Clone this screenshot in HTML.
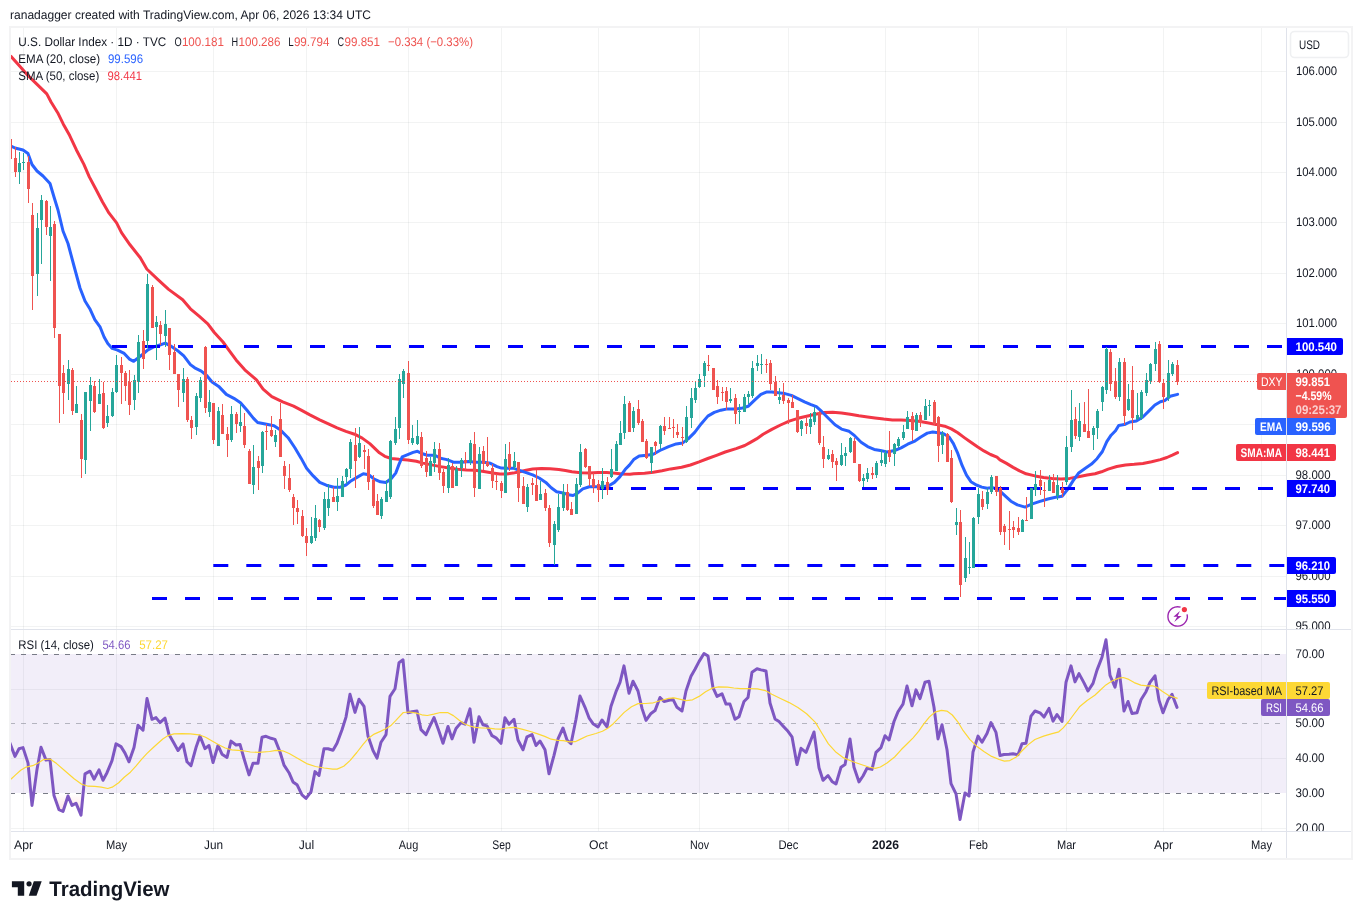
<!DOCTYPE html>
<html lang="en"><head><meta charset="utf-8"><title>U.S. Dollar Index chart</title>
<style>html,body{margin:0;padding:0;background:#fff}body{width:1362px;height:919px;overflow:hidden}svg{display:block;will-change:transform}</style>
</head><body>
<svg width="1362" height="919" viewBox="0 0 1362 919" font-family='"Liberation Sans", Arial, sans-serif' font-size="12.5" fill="#131722" shape-rendering="auto" text-rendering="geometricPrecision">
<g>
<defs>
<clipPath id="cm"><rect x="11" y="28" width="1275" height="601"/></clipPath>
<clipPath id="cr"><rect x="11" y="630" width="1275" height="201"/></clipPath>
<clipPath id="ca"><rect x="1287" y="28" width="64" height="601"/></clipPath>
<clipPath id="cb"><rect x="1287" y="630" width="64" height="201"/></clipPath>
<linearGradient id="os" gradientUnits="userSpaceOnUse" x1="0" y1="793.5" x2="0" y2="897.7"><stop offset="0" stop-color="#ff5252" stop-opacity="0"/><stop offset="1" stop-color="#ff5252" stop-opacity="1"/></linearGradient>
<linearGradient id="ob" gradientUnits="userSpaceOnUse" x1="0" y1="550.2" x2="0" y2="654.5"><stop offset="0" stop-color="#4caf50" stop-opacity="1"/><stop offset="1" stop-color="#4caf50" stop-opacity="0"/></linearGradient>
</defs>
<text x="10" y="19" font-size="12.4" textLength="361" lengthAdjust="spacingAndGlyphs">ranadagger created with TradingView.com, Apr 06, 2026 13:34 UTC</text>
<rect x="10" y="27" width="1342" height="832" fill="none" stroke="#f3f3f4" stroke-width="2"/>
<path d="M23.5 28V831 M116.5 28V831 M213.5 28V831 M306.5 28V831 M408.5 28V831 M501.5 28V831 M598.5 28V831 M699.5 28V831 M788.5 28V831 M885.5 28V831 M978.5 28V831 M1066.5 28V831 M1163.5 28V831 M1261.5 28V831" stroke="#2a2e39" stroke-opacity="0.06" stroke-width="1" fill="none" shape-rendering="crispEdges"/>
<path d="M11 626.5H1286 M11 576.5H1286 M11 525.5H1286 M11 475.5H1286 M11 424.5H1286 M11 374.5H1286 M11 323.5H1286 M11 273.5H1286 M11 222.5H1286 M11 172.5H1286 M11 122.5H1286 M11 71.5H1286 M11 689.5H1286 M11 758.5H1286 M11 828.5H1286" stroke="#2a2e39" stroke-opacity="0.06" stroke-width="1" fill="none" shape-rendering="crispEdges"/>
<rect x="11" y="654" width="1275" height="139" fill="#7e57c2" fill-opacity="0.1"/>
<g clip-path="url(#cm)">
<path d="M10.9 56.3 L19.6 66.1 L28.3 75.9 L38.1 85.4 L46.8 93.9 L51.2 102.3 L57.7 112.7 L63.2 123.9 L69.7 135.6 L76.3 149.7 L83.9 164.4 L89.3 176.9 L95.9 189.2 L102.4 201.8 L108.9 212.9 L116.6 222.8 L121.5 232.6 L130.0 244.8 L140.3 257.8 L146.8 269.0 L157.7 279.3 L168.6 289.4 L182.7 299.7 L190.4 308.8 L199.1 316.2 L207.8 323.8 L214.3 332.5 L223.0 342.0 L229.6 351.1 L236.1 359.9 L244.8 369.8 L256.5 379.9 L263.1 389.2 L271.8 396.6 L282.7 401.9 L293.6 406.1 L301.2 410.1 L309.9 414.9 L319.7 419.8 L328.4 423.9 L337.1 427.8 L345.9 431.4 L354.6 434.2 L362.2 438.1 L369.8 443.6 L375.0 448.6 L379.4 452.8 L384.8 456.3 L391.3 458.5 L399.0 459.3 L407.7 459.9 L416.4 461.3 L422.9 463.1 L431.6 464.9 L440.4 466.6 L449.1 468.1 L457.8 469.3 L466.5 469.9 L475.2 470.3 L483.9 471.4 L492.6 472.9 L500.0 473.9 L506.5 473.9 L513.1 473.1 L519.6 471.8 L526.1 470.2 L532.7 469.0 L541.4 468.5 L550.1 468.8 L558.8 469.5 L565.4 470.5 L571.9 471.8 L580.6 472.7 L589.3 472.9 L598.0 472.6 L606.8 472.6 L615.5 473.2 L622.0 474.1 L630.0 474.3 L633.7 473.8 L644.6 473.2 L653.3 472.2 L662.0 470.7 L670.8 468.9 L681.6 467.3 L690.4 465.0 L699.1 461.9 L707.8 458.5 L716.5 455.3 L725.2 452.0 L736.1 448.6 L744.8 445.5 L750.0 442.6 L756.5 438.9 L763.1 434.3 L771.8 429.4 L780.5 425.0 L789.2 421.2 L797.9 418.3 L806.6 416.2 L815.4 414.2 L824.1 412.6 L832.8 412.2 L841.5 412.9 L850.2 414.2 L858.9 415.8 L867.6 417.0 L875.0 417.9 L883.7 419.0 L892.4 419.9 L901.1 420.1 L909.9 420.4 L918.6 421.3 L927.3 422.8 L936.0 424.4 L944.7 426.2 L951.3 428.9 L957.8 432.8 L964.3 437.6 L970.9 442.3 L977.4 446.8 L983.9 450.9 L990.5 454.5 L997.0 457.2 L1000.0 459.9 L1006.5 463.4 L1013.1 467.4 L1019.6 470.9 L1026.1 473.8 L1034.9 475.9 L1043.6 477.5 L1052.3 478.6 L1061.0 479.1 L1069.7 478.4 L1078.4 476.7 L1087.1 475.1 L1095.0 473.7 L1101.5 471.8 L1108.1 469.1 L1116.8 466.5 L1125.5 465.0 L1134.2 464.3 L1142.9 463.4 L1151.6 461.8 L1160.4 459.6 L1166.9 457.5 L1172.3 455.1 L1177.6 452.6" stroke="#f23645" stroke-width="3" fill="none" stroke-linejoin="round" stroke-linecap="round"/>
<path d="M11.0 146.1 L15.0 148.0 L23.0 150.0 L28.0 153.5 L32.0 164.5 L37.0 171.0 L43.0 176.0 L50.0 183.5 L54.0 197.0 L58.0 210.0 L63.0 231.0 L68.0 243.5 L74.0 266.0 L80.0 288.0 L85.0 301.0 L89.8 308.7 L94.8 319.6 L100.2 327.2 L104.1 337.0 L107.8 343.6 L112.2 348.4 L117.6 350.1 L124.2 353.4 L129.4 359.1 L133.7 361.3 L138.1 358.0 L143.5 353.7 L147.9 349.8 L153.3 347.1 L159.9 345.0 L165.3 343.2 L170.8 346.1 L177.3 350.4 L183.8 355.9 L190.4 364.6 L194.7 367.8 L201.3 371.1 L206.7 375.5 L212.1 382.0 L218.7 386.4 L226.3 394.4 L233.9 398.3 L240.5 402.7 L247.0 410.3 L253.3 418.1 L257.6 422.5 L265.3 424.0 L274.0 425.8 L280.5 430.1 L288.1 437.7 L294.7 447.5 L301.2 458.4 L306.6 468.2 L313.2 475.9 L319.7 482.4 L326.3 485.2 L333.9 487.2 L340.4 487.2 L345.9 485.0 L351.3 480.7 L357.8 476.9 L363.3 473.7 L368.7 474.8 L374.2 479.1 L380.4 481.8 L385.9 482.5 L391.3 478.5 L395.7 473.1 L399.0 464.4 L402.2 456.8 L407.7 454.6 L413.1 452.4 L417.5 451.3 L421.8 453.5 L427.3 455.2 L434.9 455.2 L440.4 458.3 L446.9 459.6 L453.4 462.2 L462.1 462.2 L468.7 461.5 L476.3 462.2 L483.9 462.2 L490.5 463.3 L497.0 466.6 L501.4 468.1 L506.5 468.2 L513.1 468.2 L519.6 470.4 L526.1 472.6 L532.7 474.8 L539.2 478.0 L545.8 482.4 L551.2 487.8 L556.6 491.8 L563.2 492.9 L568.6 494.8 L573.0 495.5 L577.3 493.3 L582.8 488.9 L589.3 486.8 L595.9 486.8 L602.4 486.8 L608.9 485.7 L614.4 482.4 L619.8 476.9 L625.3 469.3 L629.4 465.1 L633.7 459.6 L639.2 455.9 L646.8 455.3 L653.3 454.2 L659.9 450.5 L668.6 446.6 L676.2 443.9 L682.7 442.9 L688.2 438.9 L694.7 432.4 L701.3 423.7 L707.8 416.1 L714.3 412.4 L720.9 410.2 L727.4 408.9 L736.1 408.9 L742.6 408.0 L748.1 406.3 L755.4 399.3 L760.9 394.3 L766.3 392.1 L771.8 392.1 L778.3 392.7 L784.9 393.6 L791.4 395.4 L797.9 398.6 L804.5 401.9 L811.0 404.7 L816.4 406.7 L821.9 411.7 L828.4 418.2 L835.0 424.8 L841.5 429.1 L849.1 431.3 L854.6 435.7 L861.1 442.2 L867.6 446.6 L874.2 449.4 L880.4 450.5 L887.0 451.9 L894.6 450.5 L901.1 447.9 L907.7 444.2 L914.2 441.4 L920.8 437.0 L927.3 433.1 L932.7 432.0 L938.2 432.7 L943.6 433.8 L949.1 437.0 L953.4 443.6 L957.8 453.4 L962.1 465.4 L966.5 475.2 L970.9 481.7 L976.3 485.0 L981.8 487.1 L987.2 488.2 L992.6 487.6 L998.1 489.3 L1005.4 496.2 L1010.9 501.2 L1017.4 504.9 L1025.1 507.1 L1031.6 504.2 L1039.2 501.6 L1047.9 499.0 L1055.6 497.3 L1062.1 496.2 L1067.5 489.6 L1073.0 480.9 L1078.4 473.3 L1085.0 468.5 L1091.5 464.1 L1097.0 458.7 L1102.4 451.5 L1106.8 441.7 L1111.1 435.2 L1115.5 430.8 L1118.7 425.4 L1124.4 424.6 L1129.9 422.0 L1136.4 420.9 L1142.9 417.0 L1149.5 410.4 L1154.9 405.0 L1160.4 401.7 L1164.7 400.6 L1170.2 396.3 L1177.6 394.4" stroke="#2962ff" stroke-width="3" fill="none" stroke-linejoin="round" stroke-linecap="round"/>
<path d="M112 346.5H1286" stroke="#0000ff" stroke-width="3" stroke-dasharray="15 18" fill="none"/>
<path d="M598 488.5H1286" stroke="#0000ff" stroke-width="3" stroke-dasharray="15 18" fill="none"/>
<path d="M213.3 565.5H1286" stroke="#0000ff" stroke-width="3" stroke-dasharray="15 18" fill="none"/>
<path d="M152 598.5H1286" stroke="#0000ff" stroke-width="3" stroke-dasharray="15 18" fill="none"/>
<path d="M19.5 152V184 M23.5 153V170 M37.5 213V296 M41.5 195V264 M50.5 206V281 M68.5 360V400 M76.5 386V413 M85.5 392V474 M90.5 377V431 M99.5 379V404 M107.5 405V427 M112.5 388V417 M116.5 355V393 M134.5 375V410 M138.5 335V393 M147.5 274V348 M156.5 316V360 M165.5 310V347 M183.5 368V402 M196.5 393V435 M200.5 377V402 M209.5 390V417 M218.5 407V446 M231.5 406V442 M240.5 404V432 M253.5 445V494 M262.5 431V473 M275.5 430V447 M311.5 517V544 M315.5 505V541 M324.5 492V530 M328.5 484V516 M337.5 478V511 M342.5 476V497 M346.5 468V484 M350.5 439V478 M359.5 427V458 M381.5 497V519 M386.5 480V502 M390.5 440V499 M395.5 417V445 M399.5 374V439 M403.5 369V398 M412.5 425V445 M417.5 420V445 M430.5 457V476 M434.5 442V472 M448.5 458V493 M456.5 466V486 M461.5 458V477 M470.5 440V465 M479.5 447V489 M505.5 444V493 M514.5 452V470 M527.5 484V512 M540.5 481V500 M554.5 521V565 M558.5 494V532 M563.5 484V511 M576.5 478V514 M580.5 444V487 M602.5 468V499 M611.5 449V478 M616.5 441V471 M620.5 421V445 M624.5 396V439 M633.5 407V432 M651.5 447V473 M660.5 425V449 M686.5 406V443 M691.5 388V428 M695.5 381V403 M699.5 374V388 M704.5 361V387 M730.5 388V403 M739.5 404V424 M744.5 394V412 M748.5 391V404 M752.5 361V398 M757.5 355V371 M761.5 354V374 M779.5 388V404 M801.5 420V436 M810.5 413V434 M814.5 407V425 M828.5 449V460 M841.5 443V466 M845.5 447V466 M850.5 437V453 M863.5 474V487 M867.5 468V482 M876.5 461V478 M881.5 450V466 M885.5 450V467 M894.5 443V466 M898.5 437V448 M903.5 425V440 M907.5 411V429 M916.5 413V431 M925.5 399V420 M929.5 400V416 M942.5 431V454 M956.5 508V535 M965.5 537V582 M969.5 542V574 M973.5 517V568 M978.5 488V524 M987.5 488V509 M991.5 475V494 M1022.5 519V532 M1031.5 488V519 M1035.5 471V496 M1049.5 475V491 M1057.5 475V500 M1066.5 436V485 M1071.5 390V452 M1079.5 403V441 M1093.5 426V450 M1097.5 409V439 M1102.5 386V411 M1106.5 347V394 M1119.5 358V401 M1128.5 384V411 M1137.5 393V420 M1141.5 390V420 M1146.5 373V396 M1150.5 363V384 M1155.5 342V371 M1168.5 360V401 M1172.5 362V376" stroke="#26a69a" stroke-width="1" fill="none" shape-rendering="crispEdges"/>
<path d="M10.5 139V168 M15.5 147V177 M28.5 156V203 M32.5 203V310 M46.5 200V235 M54.5 221V338 M59.5 334V423 M63.5 365V414 M72.5 368V415 M81.5 414V478 M94.5 381V413 M103.5 382V429 M121.5 357V404 M125.5 371V401 M129.5 370V415 M143.5 330V369 M152.5 285V328 M160.5 321V345 M169.5 328V370 M174.5 344V374 M178.5 374V407 M187.5 377V422 M191.5 416V439 M205.5 346V413 M213.5 403V444 M222.5 404V434 M227.5 427V457 M236.5 412V433 M244.5 413V448 M249.5 449V484 M258.5 456V490 M266.5 424V450 M271.5 416V437 M280.5 403V457 M284.5 461V489 M289.5 464V492 M293.5 494V525 M297.5 500V524 M302.5 510V537 M306.5 528V556 M319.5 519V532 M333.5 487V502 M355.5 428V488 M364.5 445V469 M368.5 449V490 M373.5 475V508 M377.5 494V515 M408.5 361V444 M421.5 432V468 M426.5 451V477 M439.5 443V480 M443.5 469V493 M452.5 463V488 M465.5 452V470 M474.5 432V497 M483.5 446V470 M487.5 437V467 M492.5 464V488 M496.5 474V490 M501.5 481V498 M509.5 442V471 M518.5 462V502 M523.5 477V504 M532.5 478V495 M536.5 470V501 M545.5 489V511 M549.5 505V547 M567.5 484V511 M571.5 502V515 M585.5 448V468 M589.5 466V486 M593.5 473V493 M598.5 480V502 M607.5 477V495 M629.5 401V432 M638.5 400V425 M642.5 419V442 M646.5 439V459 M655.5 441V455 M664.5 417V435 M669.5 417V429 M673.5 419V438 M677.5 424V438 M682.5 427V446 M708.5 355V371 M713.5 368V390 M717.5 380V404 M722.5 387V401 M726.5 387V410 M735.5 394V424 M766.5 359V373 M770.5 360V390 M775.5 376V396 M783.5 383V404 M788.5 398V424 M792.5 395V408 M797.5 410V433 M806.5 418V434 M819.5 411V445 M823.5 436V468 M832.5 450V468 M836.5 458V481 M854.5 438V463 M859.5 464V482 M872.5 467V479 M889.5 431V462 M912.5 412V441 M920.5 412V427 M934.5 400V425 M938.5 416V462 M947.5 433V462 M951.5 450V503 M960.5 510V597 M982.5 491V510 M996.5 476V496 M1000.5 486V535 M1004.5 524V545 M1009.5 511V550 M1013.5 521V538 M1018.5 517V535 M1026.5 497V521 M1040.5 470V495 M1044.5 482V507 M1053.5 474V493 M1062.5 482V497 M1075.5 407V439 M1084.5 402V432 M1088.5 389V438 M1110.5 349V391 M1115.5 368V399 M1124.5 358V425 M1132.5 366V430 M1159.5 341V383 M1163.5 379V409 M1177.5 360V385" stroke="#ef5350" stroke-width="1" fill="none" shape-rendering="crispEdges"/>
<path d="M18 163h3v9h-3z M22 162h3v1h-3z M36 228h3v46h-3z M40 200h3v20h-3z M49 227h3v9h-3z M67 369h3v15h-3z M75 404h3v9h-3z M84 392h3v68h-3z M89 385h3v16h-3z M98 394h3v10h-3z M106 416h3v7h-3z M111 392h3v24h-3z M115 365h3v27h-3z M133 380h3v20h-3z M137 342h3v40h-3z M146 284h3v57h-3z M155 322h3v5h-3z M164 324h3v12h-3z M182 379h3v14h-3z M195 396h3v31h-3z M199 380h3v18h-3z M208 402h3v10h-3z M217 411h3v35h-3z M230 414h3v26h-3z M239 422h3v4h-3z M252 467h3v18h-3z M261 432h3v34h-3z M274 435h3v7h-3z M310 536h3v7h-3z M314 518h3v20h-3z M323 499h3v29h-3z M327 499h3v9h-3z M336 496h3v6h-3z M341 481h3v16h-3z M345 469h3v8h-3z M349 442h3v27h-3z M358 443h3v14h-3z M380 499h3v17h-3z M385 491h3v11h-3z M389 441h3v56h-3z M394 429h3v14h-3z M398 379h3v49h-3z M402 371h3v13h-3z M411 438h3v5h-3z M416 436h3v8h-3z M429 461h3v15h-3z M433 449h3v14h-3z M447 465h3v23h-3z M455 469h3v17h-3z M460 460h3v8h-3z M469 443h3v19h-3z M478 454h3v35h-3z M504 459h3v34h-3z M513 461h3v6h-3z M526 487h3v20h-3z M539 494h3v6h-3z M553 524h3v21h-3z M557 507h3v23h-3z M562 492h3v16h-3z M575 484h3v30h-3z M579 452h3v33h-3z M601 481h3v8h-3z M610 469h3v8h-3z M615 444h3v27h-3z M619 433h3v12h-3z M623 404h3v29h-3z M632 411h3v17h-3z M650 447h3v16h-3z M659 426h3v18h-3z M685 417h3v25h-3z M690 398h3v20h-3z M694 388h3v12h-3z M698 379h3v8h-3z M703 363h3v13h-3z M729 399h3v2h-3z M738 411h3v1h-3z M743 397h3v15h-3z M747 394h3v3h-3z M751 368h3v28h-3z M756 363h3v3h-3z M760 364h3v1h-3z M778 397h3v3h-3z M800 421h3v8h-3z M809 419h3v8h-3z M813 412h3v10h-3z M827 455h3v4h-3z M840 455h3v10h-3z M844 453h3v3h-3z M849 438h3v14h-3z M862 478h3v3h-3z M866 473h3v6h-3z M875 463h3v12h-3z M880 460h3v3h-3z M884 453h3v11h-3z M893 444h3v10h-3z M897 439h3v7h-3z M902 432h3v6h-3z M906 417h3v12h-3z M915 415h3v16h-3z M924 406h3v14h-3z M928 405h3v1h-3z M941 434h3v11h-3z M955 522h3v3h-3z M964 558h3v20h-3z M968 567h3v1h-3z M972 518h3v50h-3z M977 494h3v23h-3z M986 492h3v12h-3z M990 477h3v15h-3z M1021 520h3v12h-3z M1030 488h3v31h-3z M1034 484h3v6h-3z M1048 480h3v11h-3z M1056 485h3v11h-3z M1065 447h3v35h-3z M1070 420h3v27h-3z M1078 421h3v16h-3z M1092 428h3v7h-3z M1096 411h3v17h-3z M1101 387h3v15h-3z M1105 349h3v41h-3z M1118 362h3v35h-3z M1127 399h3v11h-3z M1136 415h3v4h-3z M1140 392h3v26h-3z M1145 380h3v13h-3z M1149 364h3v17h-3z M1154 349h3v15h-3z M1167 373h3v25h-3z M1171 364h3v10h-3z" fill="#26a69a" shape-rendering="crispEdges"/>
<path d="M9 139h3v20h-3z M14 158h3v14h-3z M27 162h3v27h-3z M31 215h3v61h-3z M45 201h3v26h-3z M53 224h3v104h-3z M58 334h3v52h-3z M62 373h3v20h-3z M71 370h3v41h-3z M80 420h3v39h-3z M93 386h3v26h-3z M102 393h3v35h-3z M120 365h3v8h-3z M124 373h3v13h-3z M128 382h3v23h-3z M142 341h3v18h-3z M151 287h3v41h-3z M159 325h3v9h-3z M168 328h3v27h-3z M173 352h3v22h-3z M177 374h3v16h-3z M186 379h3v41h-3z M190 420h3v8h-3z M204 347h3v61h-3z M212 403h3v37h-3z M221 415h3v19h-3z M226 434h3v6h-3z M235 414h3v10h-3z M243 426h3v19h-3z M248 451h3v33h-3z M257 461h3v7h-3z M265 431h3v1h-3z M270 430h3v6h-3z M279 419h3v38h-3z M283 466h3v10h-3z M288 478h3v12h-3z M292 497h3v11h-3z M296 508h3v4h-3z M301 516h3v20h-3z M305 536h3v7h-3z M318 520h3v7h-3z M332 497h3v5h-3z M354 445h3v16h-3z M363 450h3v2h-3z M367 456h3v26h-3z M372 480h3v26h-3z M376 501h3v14h-3z M407 373h3v67h-3z M420 437h3v29h-3z M425 458h3v14h-3z M438 449h3v24h-3z M442 472h3v14h-3z M451 466h3v22h-3z M464 460h3v3h-3z M473 444h3v44h-3z M482 451h3v13h-3z M486 462h3v4h-3z M491 468h3v13h-3z M495 481h3v1h-3z M500 483h3v8h-3z M508 454h3v14h-3z M517 462h3v26h-3z M522 486h3v18h-3z M531 483h3v2h-3z M535 485h3v16h-3z M544 493h3v15h-3z M548 508h3v35h-3z M566 492h3v18h-3z M570 509h3v6h-3z M584 449h3v18h-3z M588 466h3v13h-3z M592 479h3v8h-3z M597 484h3v6h-3z M606 482h3v8h-3z M628 403h3v29h-3z M637 409h3v14h-3z M641 421h3v21h-3z M645 441h3v17h-3z M654 442h3v4h-3z M663 426h3v5h-3z M668 428h3v1h-3z M672 427h3v1h-3z M676 432h3v3h-3z M681 437h3v1h-3z M707 365h3v1h-3z M712 368h3v22h-3z M716 386h3v11h-3z M721 392h3v1h-3z M725 391h3v11h-3z M734 398h3v16h-3z M765 364h3v1h-3z M769 363h3v21h-3z M774 382h3v14h-3z M782 395h3v6h-3z M787 400h3v3h-3z M791 402h3v6h-3z M796 410h3v22h-3z M805 423h3v3h-3z M818 412h3v31h-3z M822 447h3v12h-3z M831 454h3v8h-3z M835 461h3v4h-3z M853 441h3v22h-3z M858 464h3v17h-3z M871 473h3v2h-3z M888 450h3v7h-3z M911 416h3v14h-3z M919 415h3v8h-3z M933 402h3v22h-3z M937 417h3v29h-3z M946 434h3v28h-3z M950 458h3v44h-3z M959 522h3v63h-3z M981 499h3v8h-3z M995 476h3v16h-3z M999 488h3v44h-3z M1003 526h3v6h-3z M1008 529h3v1h-3z M1012 527h3v3h-3z M1017 528h3v4h-3z M1025 520h3v1h-3z M1039 480h3v6h-3z M1043 490h3v1h-3z M1052 482h3v11h-3z M1061 488h3v5h-3z M1074 419h3v17h-3z M1083 424h3v8h-3z M1087 431h3v7h-3z M1109 352h3v32h-3z M1114 381h3v16h-3z M1123 362h3v54h-3z M1131 390h3v28h-3z M1158 344h3v38h-3z M1162 383h3v14h-3z M1176 365h3v17h-3z" fill="#ef5350" shape-rendering="crispEdges"/>
<path d="M11 381.5H1257" stroke="#ef5350" stroke-width="1" stroke-dasharray="1 2" fill="none" shape-rendering="crispEdges"/>
<g stroke="#9c27b0" fill="none" stroke-width="1.4"><path d="M1187.1 614.4A9.7 9.7 0 1 1 1180.6 607.2"/></g>
<path d="M1179.9 611.1L1173.4 616.7H1177.2L1174.2 622L1181.6 616.1H1177.7z" fill="#9c27b0"/>
<circle cx="1184.4" cy="609.6" r="2.6" fill="#f23645"/>
</g>
<text x="18.3" y="46" textLength="148" lengthAdjust="spacingAndGlyphs">U.S. Dollar Index · 1D · TVC</text>
<text x="174.4" y="46" textLength="7.2" lengthAdjust="spacingAndGlyphs">O</text>
<text x="181.9" y="46" fill="#ef5350" textLength="42" lengthAdjust="spacingAndGlyphs">100.181</text>
<text x="231.6" y="46" textLength="6.6" lengthAdjust="spacingAndGlyphs">H</text>
<text x="238.5" y="46" fill="#ef5350" textLength="42" lengthAdjust="spacingAndGlyphs">100.286</text>
<text x="288.2" y="46" textLength="5.4" lengthAdjust="spacingAndGlyphs">L</text>
<text x="293.9" y="46" fill="#ef5350" textLength="35.5" lengthAdjust="spacingAndGlyphs">99.794</text>
<text x="337.6" y="46" textLength="6.6" lengthAdjust="spacingAndGlyphs">C</text>
<text x="344.50000000000006" y="46" fill="#ef5350" textLength="35.5" lengthAdjust="spacingAndGlyphs">99.851</text>
<text x="388" y="46" fill="#ef5350" textLength="85" lengthAdjust="spacingAndGlyphs">−0.334 (−0.33%)</text>
<text x="18.3" y="63" textLength="81.7" lengthAdjust="spacingAndGlyphs">EMA (20, close)</text>
<text x="108" y="63" fill="#2962ff" textLength="35" lengthAdjust="spacingAndGlyphs">99.596</text>
<text x="18.3" y="80" textLength="81" lengthAdjust="spacingAndGlyphs">SMA (50, close)</text>
<text x="107.5" y="80" fill="#f23645" textLength="34.5" lengthAdjust="spacingAndGlyphs">98.441</text>
<rect x="11" y="629" width="1340" height="1" fill="#e0e3eb"/>
<g clip-path="url(#cr)">
<path d="M30.9 793.5 L32.0 805.4 L33.7 793.5Z" fill="url(#os)" />
<path d="M53.8 793.5 L54.0 795.6 L59.0 809.7 L63.0 811.5 L68.0 796.0 L72.0 805.4 L76.0 803.2 L81.0 815.2 L83.1 793.5Z" fill="url(#os)" />
<path d="M301.3 793.5 L302.0 794.9 L306.0 798.4 L309.8 793.5Z" fill="url(#os)" />
<path d="M955.9 793.5 L956.0 793.8 L960.0 819.5 L964.9 793.5Z" fill="url(#os)" />
<path d="M965.7 793.5 L969.0 796.0 L969.2 793.5Z" fill="url(#os)" />
<path d="M703.4 654.5 L704.0 653.5 L705.5 654.5Z" fill="url(#ob)" />
<path d="M1102.6 654.5 L1106.0 639.8 L1107.7 654.5Z" fill="url(#ob)" />
<path d="M10 654.5H1286" stroke="#787b86" stroke-opacity="1" stroke-width="1" stroke-dasharray="5 6" fill="none" shape-rendering="crispEdges"/>
<path d="M10 723.5H1286" stroke="#787b86" stroke-opacity="0.5" stroke-width="1" stroke-dasharray="5 6" fill="none" shape-rendering="crispEdges"/>
<path d="M10 793.5H1286" stroke="#787b86" stroke-opacity="1" stroke-width="1" stroke-dasharray="5 6" fill="none" shape-rendering="crispEdges"/>
<path d="M10.0 743.3 L15.0 756.4 L19.0 748.7 L23.0 747.6 L28.0 762.9 L32.0 805.4 L37.0 769.4 L41.0 747.2 L46.0 760.1 L50.0 759.6 L54.0 795.6 L59.0 809.7 L63.0 811.5 L68.0 796.0 L72.0 805.4 L76.0 803.2 L81.0 815.2 L85.0 773.8 L90.0 771.2 L94.0 779.2 L99.0 769.9 L103.0 780.3 L107.0 772.7 L112.0 760.7 L116.0 743.9 L121.0 746.6 L125.0 753.1 L129.0 761.8 L134.0 747.6 L138.0 725.2 L143.0 730.2 L147.0 698.6 L152.0 719.3 L156.0 717.6 L160.0 722.6 L165.0 718.2 L169.0 734.6 L174.0 743.3 L178.0 750.5 L183.0 743.9 L187.0 761.8 L191.0 765.7 L196.0 747.6 L200.0 736.1 L205.0 748.7 L209.0 745.5 L213.0 762.5 L218.0 745.5 L222.0 754.2 L227.0 757.5 L231.0 741.1 L236.0 745.0 L240.0 744.4 L244.0 758.5 L249.0 774.9 L253.0 763.3 L258.0 763.3 L262.0 737.2 L266.0 736.3 L271.0 738.3 L275.0 739.4 L280.0 752.0 L284.0 765.1 L289.0 772.7 L293.0 781.9 L297.0 784.7 L302.0 794.9 L306.0 798.4 L311.0 791.9 L315.0 771.6 L319.0 775.5 L324.0 748.7 L328.0 748.7 L333.0 750.3 L337.0 743.3 L342.0 729.8 L346.0 717.1 L350.0 694.3 L355.0 712.4 L359.0 699.3 L364.0 706.3 L368.0 736.1 L373.0 750.5 L377.0 758.1 L381.0 742.2 L386.0 734.6 L390.0 696.4 L395.0 688.8 L399.0 662.7 L403.0 659.8 L408.0 712.8 L412.0 711.7 L417.0 711.0 L421.0 729.6 L426.0 734.6 L430.0 725.9 L434.0 717.6 L439.0 731.3 L443.0 743.3 L448.0 726.5 L452.0 738.9 L456.0 728.5 L461.0 722.6 L465.0 724.1 L470.0 708.9 L474.0 742.2 L479.0 716.7 L483.0 724.8 L487.0 725.9 L492.0 735.7 L496.0 737.8 L501.0 743.3 L505.0 717.8 L509.0 724.3 L514.0 719.3 L518.0 740.0 L523.0 749.8 L527.0 736.8 L532.0 734.6 L536.0 745.5 L540.0 741.1 L545.0 749.8 L549.0 773.8 L554.0 755.3 L558.0 738.9 L563.0 728.0 L567.0 740.0 L571.0 743.7 L576.0 719.3 L580.0 696.0 L585.0 707.3 L589.0 717.8 L593.0 723.7 L598.0 726.9 L602.0 720.0 L607.0 726.9 L611.0 706.3 L616.0 691.7 L620.0 682.3 L624.0 665.9 L629.0 693.2 L633.0 681.2 L638.0 691.0 L642.0 708.4 L646.0 720.4 L651.0 713.4 L655.0 710.6 L660.0 697.5 L664.0 701.5 L669.0 700.2 L673.0 699.3 L677.0 707.3 L682.0 711.0 L686.0 691.0 L691.0 676.2 L695.0 669.2 L699.0 661.6 L704.0 653.5 L708.0 656.1 L713.0 687.7 L717.0 696.4 L722.0 693.8 L726.0 704.1 L730.0 704.1 L735.0 719.3 L739.0 716.7 L744.0 701.5 L748.0 697.5 L752.0 672.2 L757.0 668.8 L761.0 669.9 L766.0 671.0 L770.0 703.0 L775.0 718.9 L779.0 721.5 L783.0 725.9 L788.0 731.3 L792.0 736.8 L797.0 764.6 L801.0 748.3 L806.0 752.4 L810.0 742.2 L814.0 732.0 L819.0 767.7 L823.0 780.3 L828.0 775.5 L832.0 781.4 L836.0 784.0 L841.0 767.3 L845.0 764.6 L850.0 738.9 L854.0 767.3 L859.0 781.9 L863.0 776.0 L867.0 768.3 L872.0 769.4 L876.0 752.4 L881.0 747.6 L885.0 735.7 L889.0 740.0 L894.0 721.5 L898.0 711.7 L903.0 704.1 L907.0 686.0 L912.0 705.8 L916.0 689.9 L920.0 698.6 L925.0 682.3 L929.0 681.2 L934.0 707.3 L938.0 738.9 L942.0 724.8 L947.0 749.8 L951.0 783.6 L956.0 793.8 L960.0 819.5 L965.0 793.0 L969.0 796.0 L973.0 752.0 L978.0 736.1 L982.0 742.2 L987.0 733.5 L991.0 722.6 L996.0 732.4 L1000.0 755.5 L1004.0 754.5 L1009.0 754.2 L1013.0 753.7 L1018.0 754.8 L1022.0 743.7 L1026.0 743.3 L1031.0 716.1 L1035.0 711.0 L1040.0 712.8 L1044.0 717.1 L1049.0 708.4 L1053.0 721.1 L1057.0 714.5 L1062.0 721.5 L1066.0 682.3 L1071.0 665.9 L1075.0 681.9 L1079.0 673.6 L1084.0 682.9 L1088.0 691.0 L1093.0 683.4 L1097.0 670.1 L1102.0 657.2 L1106.0 639.8 L1110.0 675.3 L1115.0 687.1 L1119.0 669.2 L1124.0 711.0 L1128.0 701.5 L1132.0 713.4 L1137.0 712.8 L1141.0 699.7 L1146.0 691.7 L1150.0 682.3 L1155.0 675.8 L1159.0 700.2 L1163.0 712.8 L1168.0 699.7 L1172.0 694.3 L1177.0 707.4" stroke="#7e57c2" stroke-width="3" fill="none" stroke-linejoin="round" stroke-linecap="round"/>
<path d="M10.9 779.2 L15.3 775.1 L20.7 770.2 L26.1 767.1 L32.7 765.7 L38.1 763.0 L43.6 759.6 L50.1 759.0 L56.6 763.6 L65.4 771.3 L74.1 778.8 L81.7 784.2 L88.2 786.2 L94.8 786.3 L101.3 787.2 L107.8 788.5 L112.2 787.2 L118.7 782.7 L124.2 777.3 L130.4 772.2 L135.9 766.2 L141.3 759.6 L146.8 753.6 L152.2 748.5 L157.7 743.5 L163.1 738.7 L168.6 735.3 L174.0 733.8 L181.6 733.6 L190.4 733.9 L199.1 734.8 L205.6 737.3 L212.1 741.1 L218.7 744.8 L225.2 748.0 L231.8 749.9 L238.3 750.4 L244.8 751.0 L250.3 752.0 L258.7 752.4 L269.6 751.5 L276.1 750.4 L282.7 750.8 L289.2 753.5 L297.9 758.5 L306.6 763.6 L315.4 766.5 L324.1 768.0 L332.8 769.1 L337.1 769.1 L343.7 766.3 L350.2 760.4 L356.8 752.5 L363.3 744.2 L368.7 737.9 L374.2 734.1 L380.4 731.4 L385.9 728.8 L391.3 725.2 L395.7 720.7 L400.1 715.8 L403.3 712.5 L409.9 712.0 L416.4 713.1 L421.8 714.8 L427.3 715.5 L433.8 714.1 L440.4 712.5 L448.0 712.7 L453.4 715.6 L458.9 720.0 L464.3 723.8 L469.8 726.0 L475.2 727.4 L481.8 728.0 L488.3 728.1 L494.8 728.8 L500.3 729.2 L506.5 728.0 L514.2 727.4 L521.8 729.1 L530.5 731.5 L537.0 733.6 L544.7 736.4 L551.2 739.2 L557.7 740.4 L563.2 740.7 L569.7 741.8 L575.2 741.7 L580.6 739.1 L587.1 736.0 L595.9 733.5 L602.4 731.3 L607.8 728.3 L613.3 723.7 L618.7 718.2 L624.2 712.4 L631.5 706.7 L638.1 703.6 L645.7 703.5 L653.3 702.8 L660.9 700.5 L668.6 698.4 L674.0 697.9 L680.6 699.3 L686.0 700.6 L692.5 699.8 L699.1 696.4 L705.6 691.7 L712.1 688.2 L718.7 686.9 L727.4 687.1 L733.9 688.0 L740.5 688.6 L747.0 688.5 L757.6 688.8 L765.3 690.6 L771.8 694.3 L780.5 698.5 L789.2 702.6 L797.9 707.5 L806.6 713.8 L815.4 722.4 L821.9 733.2 L828.4 743.9 L836.1 752.3 L843.7 757.9 L852.4 761.5 L861.1 764.5 L868.7 767.0 L875.3 768.3 L880.4 767.0 L887.0 763.0 L894.6 757.0 L901.1 749.8 L907.7 743.3 L913.1 737.8 L918.6 731.3 L924.0 723.7 L929.5 716.9 L934.9 712.2 L941.4 710.3 L946.9 711.1 L952.3 715.0 L957.8 721.8 L963.2 730.7 L969.8 739.3 L976.3 745.9 L983.9 751.6 L991.6 756.4 L999.2 759.5 L1004.4 761.1 L1009.8 760.6 L1016.3 757.0 L1021.8 751.0 L1028.3 744.6 L1034.9 739.5 L1043.6 736.1 L1051.2 733.9 L1058.8 731.8 L1063.2 727.9 L1068.6 721.5 L1074.1 714.0 L1079.5 706.8 L1087.1 700.5 L1094.8 695.3 L1100.4 690.0 L1105.9 684.9 L1112.4 680.8 L1119.0 678.1 L1123.3 677.5 L1128.8 679.4 L1134.2 682.6 L1140.8 685.1 L1147.3 685.8 L1152.7 685.8 L1157.1 687.6 L1162.5 691.6 L1168.0 695.1 L1173.4 697.2 L1177.6 698.4" stroke="#fdd835" stroke-width="1.2" fill="none" stroke-linejoin="round"/>
</g>
<text x="18.3" y="648.7" textLength="75.5" lengthAdjust="spacingAndGlyphs">RSI (14, close)</text>
<text x="102.4" y="648.7" fill="#7e57c2" textLength="28" lengthAdjust="spacingAndGlyphs">54.66</text>
<text x="139.2" y="648.7" fill="#fdd835" textLength="28.8" lengthAdjust="spacingAndGlyphs">57.27</text>
<rect x="1286" y="28" width="1" height="830" fill="#e0e3eb"/>
<rect x="11" y="831" width="1340" height="1" fill="#e0e3eb"/>
<g clip-path="url(#ca)">
<text x="1295.5" y="630.3" textLength="35" lengthAdjust="spacingAndGlyphs">95.000</text>
<text x="1295.5" y="580.3" textLength="35" lengthAdjust="spacingAndGlyphs">96.000</text>
<text x="1295.5" y="529.3" textLength="35" lengthAdjust="spacingAndGlyphs">97.000</text>
<text x="1295.5" y="479.3" textLength="35" lengthAdjust="spacingAndGlyphs">98.000</text>
<text x="1295.5" y="428.3" textLength="35" lengthAdjust="spacingAndGlyphs">99.000</text>
<text x="1296" y="378.3" textLength="41" lengthAdjust="spacingAndGlyphs">100.000</text>
<text x="1296" y="327.3" textLength="41" lengthAdjust="spacingAndGlyphs">101.000</text>
<text x="1296" y="277.3" textLength="41" lengthAdjust="spacingAndGlyphs">102.000</text>
<text x="1296" y="226.3" textLength="41" lengthAdjust="spacingAndGlyphs">103.000</text>
<text x="1296" y="176.3" textLength="41" lengthAdjust="spacingAndGlyphs">104.000</text>
<text x="1296" y="126.3" textLength="41" lengthAdjust="spacingAndGlyphs">105.000</text>
<text x="1296" y="75.3" textLength="41" lengthAdjust="spacingAndGlyphs">106.000</text>
</g><g clip-path="url(#cb)">
<text x="1295.5" y="658.3" textLength="29" lengthAdjust="spacingAndGlyphs">70.00</text>
<text x="1295.5" y="727.3" textLength="29" lengthAdjust="spacingAndGlyphs">50.00</text>
<text x="1295.5" y="762.3" textLength="29" lengthAdjust="spacingAndGlyphs">40.00</text>
<text x="1295.5" y="797.3" textLength="29" lengthAdjust="spacingAndGlyphs">30.00</text>
<text x="1295.5" y="832.3" textLength="29" lengthAdjust="spacingAndGlyphs">20.00</text>
</g>
<rect x="1290.5" y="31.5" width="58" height="26" rx="4" fill="#fff" stroke="#eff0f2" stroke-width="1.6"/>
<text x="1299" y="48.7" textLength="21" lengthAdjust="spacingAndGlyphs">USD</text>
<path d="M1287 338H1341Q1343 338 1343 340V353Q1343 355 1341 355H1287Q1287 355 1287 355V338Q1287 338 1287 338Z" fill="#0000ff"/>
<text x="1295.5" y="350.5" fill="#fff" font-weight="bold" textLength="41.5" lengthAdjust="spacingAndGlyphs">100.540</text>
<path d="M1287 480H1334Q1336 480 1336 482V495Q1336 497 1334 497H1287Q1287 497 1287 497V480Q1287 480 1287 480Z" fill="#0000ff"/>
<text x="1295.5" y="492.5" fill="#fff" font-weight="bold" textLength="34.5" lengthAdjust="spacingAndGlyphs">97.740</text>
<path d="M1287 557H1334Q1336 557 1336 559V572Q1336 574 1334 574H1287Q1287 574 1287 574V557Q1287 557 1287 557Z" fill="#0000ff"/>
<text x="1295.5" y="569.5" fill="#fff" font-weight="bold" textLength="34.5" lengthAdjust="spacingAndGlyphs">96.210</text>
<path d="M1287 590H1334Q1336 590 1336 592V605Q1336 607 1334 607H1287Q1287 607 1287 607V590Q1287 590 1287 590Z" fill="#0000ff"/>
<text x="1295.5" y="602.5" fill="#fff" font-weight="bold" textLength="34.5" lengthAdjust="spacingAndGlyphs">95.550</text>
<path d="M1259 373H1286Q1286 373 1286 373V390Q1286 390 1286 390H1259Q1257 390 1257 388V375Q1257 373 1259 373Z" fill="#ef5350"/>
<text x="1261" y="385.5" fill="#fff" textLength="21.5" lengthAdjust="spacingAndGlyphs">DXY</text>
<path d="M1287 373H1345Q1347 373 1347 375V416Q1347 418 1345 418H1287Q1287 418 1287 418V373Q1287 373 1287 373Z" fill="#ef5350"/>
<text x="1295.5" y="385.8" fill="#fff" font-weight="bold" textLength="34.5" lengthAdjust="spacingAndGlyphs">99.851</text>
<text x="1295.5" y="399.8" fill="#fff" font-weight="bold" textLength="36" lengthAdjust="spacingAndGlyphs">−4.59%</text>
<text x="1295.5" y="414" fill="#fff" fill-opacity="0.72" font-weight="bold" textLength="46" lengthAdjust="spacingAndGlyphs">09:25:37</text>
<path d="M1257 418H1286Q1286 418 1286 418V435Q1286 435 1286 435H1257Q1255 435 1255 433V420Q1255 418 1257 418Z" fill="#2962ff"/>
<text x="1260" y="430.5" fill="#fff" font-weight="bold" textLength="22.5" lengthAdjust="spacingAndGlyphs">EMA</text>
<path d="M1287 418H1334Q1336 418 1336 420V433Q1336 435 1334 435H1287Q1287 435 1287 435V418Q1287 418 1287 418Z" fill="#2962ff"/>
<text x="1295.5" y="430.5" fill="#fff" font-weight="bold" textLength="35" lengthAdjust="spacingAndGlyphs">99.596</text>
<path d="M1238 444H1286Q1286 444 1286 444V461Q1286 461 1286 461H1238Q1236 461 1236 459V446Q1236 444 1238 444Z" fill="#f23645"/>
<text x="1240.5" y="456.5" fill="#fff" font-weight="bold" textLength="41.5" lengthAdjust="spacingAndGlyphs">SMA:MA</text>
<path d="M1287 444H1334Q1336 444 1336 446V459Q1336 461 1334 461H1287Q1287 461 1287 461V444Q1287 444 1287 444Z" fill="#f23645"/>
<text x="1295.5" y="456.5" fill="#fff" font-weight="bold" textLength="34.5" lengthAdjust="spacingAndGlyphs">98.441</text>
<path d="M1209 682H1286Q1286 682 1286 682V699Q1286 699 1286 699H1209Q1207 699 1207 697V684Q1207 682 1209 682Z" fill="#fdd835"/>
<text x="1211.5" y="694.5" fill="#131722" textLength="70.5" lengthAdjust="spacingAndGlyphs">RSI-based MA</text>
<path d="M1287 682H1328Q1330 682 1330 684V697Q1330 699 1328 699H1287Q1287 699 1287 699V682Q1287 682 1287 682Z" fill="#fdd835"/>
<text x="1295.5" y="694.5" fill="#131722" textLength="28" lengthAdjust="spacingAndGlyphs">57.27</text>
<path d="M1263 699H1286Q1286 699 1286 699V716Q1286 716 1286 716H1263Q1261 716 1261 714V701Q1261 699 1263 699Z" fill="#7e57c2"/>
<text x="1266" y="711.5" fill="#fff" textLength="16" lengthAdjust="spacingAndGlyphs">RSI</text>
<path d="M1287 699H1328Q1330 699 1330 701V714Q1330 716 1328 716H1287Q1287 716 1287 716V699Q1287 699 1287 699Z" fill="#7e57c2"/>
<text x="1295.5" y="711.5" fill="#fff" textLength="28" lengthAdjust="spacingAndGlyphs">54.66</text>
<text x="14.00" y="848.8" textLength="19" lengthAdjust="spacingAndGlyphs">Apr</text>
<text x="106.00" y="848.8" textLength="21" lengthAdjust="spacingAndGlyphs">May</text>
<text x="204.00" y="848.8" textLength="19" lengthAdjust="spacingAndGlyphs">Jun</text>
<text x="298.75" y="848.8" textLength="15.5" lengthAdjust="spacingAndGlyphs">Jul</text>
<text x="398.75" y="848.8" textLength="19.5" lengthAdjust="spacingAndGlyphs">Aug</text>
<text x="492.25" y="848.8" textLength="18.5" lengthAdjust="spacingAndGlyphs">Sep</text>
<text x="589.00" y="848.8" textLength="19" lengthAdjust="spacingAndGlyphs">Oct</text>
<text x="690.00" y="848.8" textLength="19" lengthAdjust="spacingAndGlyphs">Nov</text>
<text x="778.50" y="848.8" textLength="20" lengthAdjust="spacingAndGlyphs">Dec</text>
<text x="872.00" y="848.8" font-weight="bold" textLength="27" lengthAdjust="spacingAndGlyphs">2026</text>
<text x="969.00" y="848.8" textLength="19" lengthAdjust="spacingAndGlyphs">Feb</text>
<text x="1057.00" y="848.8" textLength="19" lengthAdjust="spacingAndGlyphs">Mar</text>
<text x="1154.00" y="848.8" textLength="19" lengthAdjust="spacingAndGlyphs">Apr</text>
<text x="1251.00" y="848.8" textLength="21" lengthAdjust="spacingAndGlyphs">May</text>
<g fill="#131722"><path d="M11.9 881.2H24.2V895.8H17.8V887.3H11.9z"/><circle cx="29.05" cy="883.8" r="2.6"/><path d="M33.8 881.2H41.7L36.5 895.8H28.8z"/></g>
<text x="49.3" y="895.8" font-size="21" font-weight="bold" textLength="120.2" lengthAdjust="spacingAndGlyphs">TradingView</text>
</g>
</svg>
</body></html>
